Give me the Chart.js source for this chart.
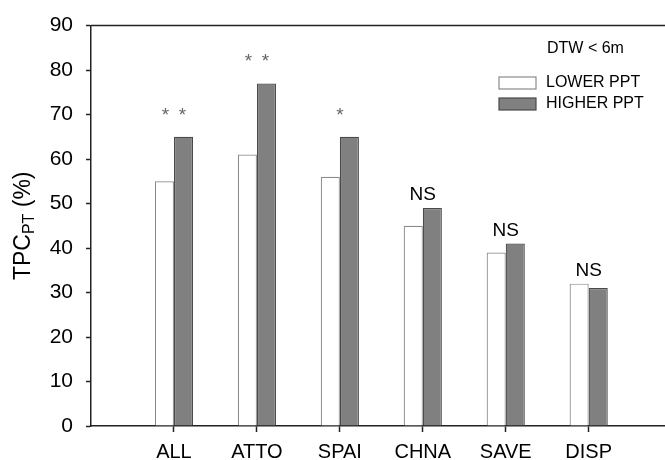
<!DOCTYPE html>
<html>
<head>
<meta charset="utf-8">
<script src="https://cdn.jsdelivr.net/npm/chart.js@4.4.1/dist/chart.umd.min.js"></script>
<style>
  body { margin: 0; background: #fff; }
  canvas { display: block; }
</style>
</head>
<body>
<canvas id="tpcChart" width="665" height="460"></canvas>
<script>
// values
const categories = ['ALL', 'ATTO', 'SPAI', 'CHNA', 'SAVE', 'DISP'];
const lowerPPT = [55, 61, 56, 45, 39, 32];
const higherPPT = [65, 77, 65, 49, 41, 31];
const significance = ['* *', '* *', '*', 'NS', 'NS', 'NS'];
const yMin = 0, yMax = 90, yStep = 10;
const legendTitle = 'DTW < 6m';

const FONT = '"Liberation Sans", Arial, sans-serif';
const AXIS = '#222';

// title, legend, significance marks
const extras = {
    id: 'extras',
    afterDraw(chart) {
        const c = chart.ctx;
        const area = chart.chartArea;
        const x = chart.scales.x, y = chart.scales.y;
        c.save();

        // top frame line
        c.strokeStyle = AXIS;
        c.lineWidth = 1.5;
        c.beginPath();
        c.moveTo(area.left, area.top);
        c.lineTo(area.right, area.top);
        c.stroke();

        // y title with subscript
        c.save();
        c.translate(24, (area.top + area.bottom) / 2);
        c.rotate(-Math.PI / 2);
        c.fillStyle = '#000';
        c.textBaseline = 'middle';
        const big = '23px ' + FONT, small = '16px ' + FONT;
        c.font = big; const w1 = c.measureText('TPC').width, w3 = c.measureText(' (%)').width;
        c.font = small; const w2 = c.measureText('PT').width;
        let tx = -(w1 + w2 + w3) / 2;
        c.textAlign = 'left';
        c.font = big; c.fillText('TPC', tx, 0); tx += w1;
        c.font = small; c.fillText('PT', tx, 6); tx += w2;
        c.font = big; c.fillText(' (%)', tx, 0);
        c.restore();

        // legend
        c.font = '16px ' + FONT;
        c.fillStyle = '#000';
        c.textAlign = 'left';
        c.textBaseline = 'middle';
        c.fillText(legendTitle, 547, 49);
        chart.data.datasets.forEach((ds, i) => {
            const top = 77 + i * 21;
            c.fillStyle = ds.backgroundColor;
            c.fillRect(499, top, 37, 12);
            c.strokeStyle = ds.borderColor;
            c.lineWidth = 1.2;
            c.strokeRect(499, top, 37, 12);
            c.fillStyle = '#000';
            c.fillText(ds.label, 546, top + 6);
        });

        // significance marks
        significance.forEach((s, i) => {
            const cx = x.getPixelForValue(i + 1);
            const top = y.getPixelForValue(Math.max(lowerPPT[i], higherPPT[i]));
            c.textAlign = 'center';
            c.textBaseline = 'alphabetic';
            if (s === 'NS') {
                c.font = '19px ' + FONT;
                c.fillStyle = '#000';
                c.fillText(s, cx, top - 8);
            } else {
                c.font = '19px ' + FONT;
                c.fillStyle = '#666';
                const stars = s.replace(/ /g, '').length;
                for (let k = 0; k < stars; k++) {
                    const sx = cx + (k - (stars - 1) / 2) * 17;
                    c.fillText('*', sx, top - 16);
                }
            }
        });
        c.restore();
    }
};

new Chart(document.getElementById('tpcChart'), {
    type: 'bar',
    data: {
        datasets: [{
            label: 'LOWER PPT',
            data: lowerPPT.map((v, i) => ({ x: i + 1, y: v })),
            backgroundColor: '#ffffff',
            borderColor: '#8a8a8a',
            borderWidth: 1.2
        }, {
            label: 'HIGHER PPT',
            data: higherPPT.map((v, i) => ({ x: i + 1, y: v })),
            backgroundColor: '#808080',
            borderColor: '#4a4a4a',
            borderWidth: 1.2
        }]
    },
    options: {
        responsive: false,
        animation: false,
        layout: { padding: { top: 20, right: 0, bottom: 0, left: 0 } },
        datasets: { bar: { categoryPercentage: 0.46, barPercentage: 1 } },
        scales: {
            x: {
                type: 'linear',
                offset: false,
                min: 0,
                max: 6.92,
                afterBuildTicks: s => { s.ticks = categories.map((c, i) => ({ value: i + 1 })); },
                afterFit: s => { s.height = 34; },
                ticks: {
                    callback: v => categories[v - 1],
                    font: { family: FONT, size: 20 },
                    color: '#000',
                    padding: 8,
                    autoSkip: false,
                    maxRotation: 0
                },
                grid: { offset: false, drawOnChartArea: false, tickLength: 6, tickColor: AXIS, tickWidth: 1.5 },
                border: { color: AXIS, width: 1.5 }
            },
            y: {
                min: yMin,
                max: yMax,
                afterFit: s => { s.width = 91; },
                ticks: {
                    stepSize: yStep,
                    font: { family: FONT, size: 21 },
                    color: '#000',
                    padding: 13
                },
                grid: { drawOnChartArea: false, tickLength: 5, tickColor: AXIS, tickWidth: 1.5 },
                border: { color: AXIS, width: 1.5 }
            }
        },
        plugins: {
            legend: { display: false },
            tooltip: { enabled: false }
        }
    },
    plugins: [extras]
});
</script>
</body>
</html>
